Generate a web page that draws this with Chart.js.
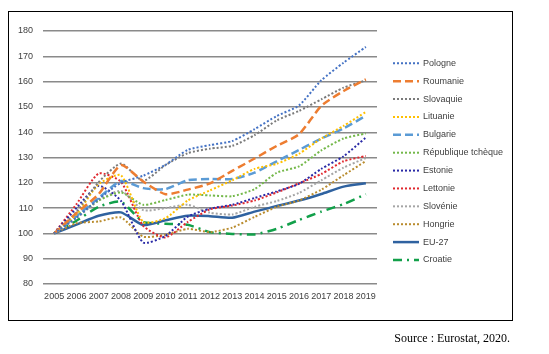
<!DOCTYPE html>
<html>
<head>
<meta charset="utf-8">
<script src="https://cdn.jsdelivr.net/npm/chart.js@4"></script>
<style>
  body { margin: 0; background: #fff; }
  #wrap { position: relative; width: 549px; height: 354px; }
  #frame { position: absolute; left: 8px; top: 11px; width: 503px; height: 308px; border: 1px solid #000; }
  #c { position: absolute; left: 0; top: 0; }
  #source { position: absolute; right: 39px; top: 331px; font: 12px "Liberation Serif", "Times New Roman", serif; color: #000; }
</style>
</head>
<body>
<div id="wrap">
  <div id="frame"></div>
  <canvas id="c" width="549" height="354"></canvas>
  <div id="source">Source : Eurostat, 2020.</div>
</div>
<script>
const years = ['2005','2006','2007','2008','2009','2010','2011','2012','2013','2014','2015','2016','2017','2018','2019'];

const pologne   = [100, 106.2, 113.6, 120.0, 122.8, 127.1, 133.0, 134.9, 136.5, 141.2, 146.4, 150.6, 160.5, 167.5, 173.7];
const roumanie  = [100, 108.0, 115.5, 127.0, 120.5, 115.5, 117.3, 119.8, 124.7, 129.6, 134.6, 139.2, 150.4, 156.3, 160.9];
const slovaquie = [100, 108.5, 120.3, 127.6, 120.8, 127.0, 131.7, 133.5, 134.6, 138.8, 144.7, 148.4, 153.0, 157.6, 160.5];
const lituanie  = [100, 107.5, 119.5, 123.0, 104.5, 106.0, 113.0, 117.0, 121.0, 125.5, 127.5, 131.5, 137.5, 142.5, 148.0];
const bulgarie  = [100, 106.8, 114.0, 120.7, 117.9, 117.5, 121.0, 121.5, 121.5, 124.0, 128.5, 133.0, 137.5, 141.5, 146.5];
const tcheque   = [100, 107.0, 113.0, 116.2, 111.3, 113.2, 115.3, 115.0, 114.7, 117.5, 124.0, 126.5, 132.8, 137.5, 139.5];
const estonie   = [100, 110.0, 118.8, 112.9, 96.4, 99.0, 106.6, 109.8, 111.3, 114.0, 116.6, 119.6, 125.5, 130.5, 137.9];
const lettonie  = [100, 111.5, 123.7, 120.4, 103.0, 98.4, 104.5, 109.5, 111.0, 113.0, 116.2, 119.8, 123.5, 128.5, 130.6];
const slovenie  = [100, 106.0, 113.0, 116.8, 109.2, 110.0, 111.3, 108.2, 107.5, 110.5, 112.8, 116.0, 121.0, 126.0, 129.8];
const hongrie   = [100, 104.0, 104.7, 106.3, 98.7, 99.5, 101.8, 100.5, 102.3, 106.5, 110.5, 113.0, 117.3, 123.0, 128.6];
const eu27      = [100, 103.5, 107.0, 108.3, 103.3, 105.2, 107.0, 106.8, 106.2, 108.6, 110.8, 113.0, 115.6, 118.5, 119.8];
const croatie   = [100, 105.0, 110.5, 112.5, 104.6, 103.8, 103.4, 100.5, 99.8, 99.6, 101.8, 105.3, 108.6, 111.6, 115.5];

const dot = [2, 2];
const dash = [8, 4];
const dashDot = [9, 5, 2, 5];

function series(label, data, color, width, borderDash) {
  return {
    label: label,
    data: data,
    borderColor: color,
    backgroundColor: color,
    borderWidth: width,
    borderDash: borderDash,
    pointRadius: 0,
    tension: 0.2,
    fill: false
  };
}

const datasets = [
  series('Pologne', pologne, '#4472C4', 2, dot),
  series('Roumanie', roumanie, '#ED7D31', 2.5, dash),
  series('Slovaquie', slovaquie, '#7A7A7A', 2, dot),
  series('Lituanie', lituanie, '#FFC000', 2, dot),
  series('Bulgarie', bulgarie, '#5B9BD5', 2.5, dash),
  series('République tchèque', tcheque, '#74B84A', 2, dot),
  series('Estonie', estonie, '#2A2AA6', 2, dot),
  series('Lettonie', lettonie, '#E0282E', 2, dot),
  series('Slovénie', slovenie, '#A5A5A5', 2, dot),
  series('Hongrie', hongrie, '#B98C2E', 2, dot),
  series('EU-27', eu27, '#2F62A0', 2.5, []),
  series('Croatie', croatie, '#12A04A', 2.5, dashDot)
];

// legend drawn in the canvas so the line styles show
const sideLegend = {
  id: 'sideLegend',
  afterDraw(chart) {
    const ctx = chart.ctx;
    ctx.save();
    ctx.font = '9px "Liberation Sans", Arial, sans-serif';
    ctx.textBaseline = 'middle';
    chart.data.datasets.forEach(function (ds, i) {
      const y = 63.3 + i * 17.88;
      ctx.beginPath();
      ctx.strokeStyle = ds.borderColor;
      ctx.lineWidth = ds.borderWidth;
      ctx.setLineDash(ds.borderDash);
      ctx.moveTo(393, y);
      ctx.lineTo(419, y);
      ctx.stroke();
      ctx.setLineDash([]);
      ctx.fillStyle = '#404040';
      ctx.fillText(ds.label, 423, y);
    });
    ctx.restore();
  }
};

new Chart(document.getElementById('c'), {
  type: 'line',
  data: { labels: years, datasets: datasets },
  options: {
    responsive: false,
    animation: false,
    layout: { padding: { left: 8, top: 31, right: 172, bottom: 52 } },
    plugins: {
      legend: { display: false },
      tooltip: { enabled: false }
    },
    scales: {
      x: {
        offset: true,
        grid: { display: false, drawTicks: false },
        border: { display: false },
        ticks: {
          autoSkip: false, maxRotation: 0, padding: 7,
          color: '#404040',
          font: { family: '"Liberation Sans", Arial, sans-serif', size: 9 }
        },
        afterFit(scale) { scale.height = 18; }
      },
      y: {
        min: 80, max: 180,
        grid: { color: '#8a8a8a', lineWidth: 1.4, drawTicks: false },
        border: { display: false },
        ticks: {
          stepSize: 10, padding: 10,
          color: '#404040',
          font: { family: '"Liberation Sans", Arial, sans-serif', size: 9 }
        },
        afterFit(scale) { scale.width = 35; }
      }
    }
  },
  plugins: [sideLegend]
});
</script>
</body>
</html>
